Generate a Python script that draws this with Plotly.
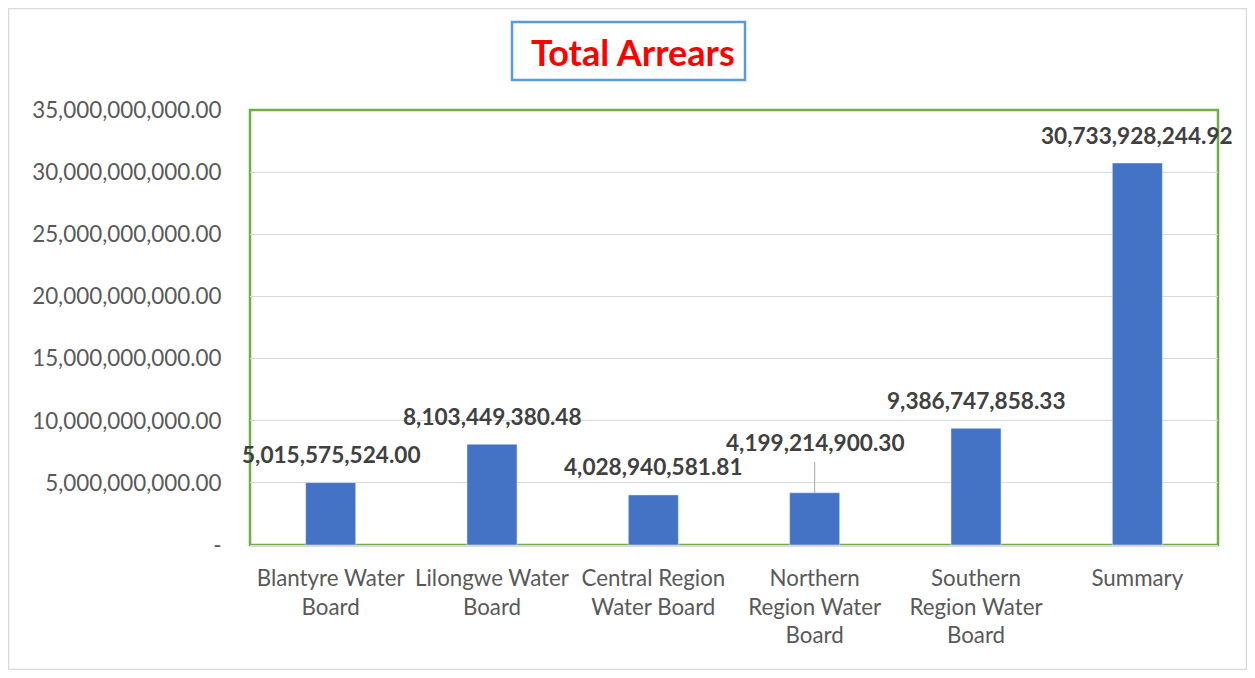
import plotly.graph_objects as go

categories = ["Blantyre Water<br>Board", "Lilongwe Water<br>Board", "Central Region<br>Water Board",
              "Northern<br>Region Water<br>Board", "Southern<br>Region Water<br>Board", "Summary"]
values = [5015575524.00, 8103449380.48, 4028940581.81, 4199214900.30, 9386747858.33, 30733928244.92]
tick_vals = [0, 5e9, 10e9, 15e9, 20e9, 25e9, 30e9, 35e9]
tick_text = ["-", "5,000,000,000.00", "10,000,000,000.00", "15,000,000,000.00", "20,000,000,000.00",
             "25,000,000,000.00", "30,000,000,000.00", "35,000,000,000.00"]

FONT = "Lato"
OFF = 8  # page body margin
W, H = 1255 - 2 * OFF, 678 - 2 * OFF
L, R, T, B = 250 - OFF, W - (1218 - OFF), 110 - OFF, H - (545 - OFF)
pw, ph = W - L - R, H - T - B

def px(x):
    return (x - OFF - L) / pw

def py(y):
    return (H - B - (y - OFF)) / ph

fig = go.Figure(go.Bar(x=categories, y=values, marker_color="#4472C4", width=0.31))

for i, (c, v) in enumerate(zip(categories, values)):
    label = f"{v:,.2f}"
    if i == 3:
        fig.add_annotation(x=c, y=v, text=f"<b>{label}</b>", showarrow=True, arrowhead=0,
                           arrowwidth=1, arrowcolor="#a6a6a6", ax=0, ay=-50, startstandoff=4,
                           font=dict(family=FONT, size=22.6, color="#404040"))
    else:
        fig.add_annotation(x=c, y=v, text=f"<b>{label}</b>", showarrow=False, yshift=28,
                           font=dict(family=FONT, size=22.6, color="#404040"))

# title box
fig.add_shape(type="rect", xref="paper", yref="paper", x0=px(512), x1=px(745), y0=py(80), y1=py(22),
              line=dict(color="#5B9BD5", width=2.5), fillcolor="white", layer="below")
fig.add_annotation(xref="paper", yref="paper", x=px(633), y=py(52), xanchor="center", yanchor="middle",
                   text="<b>Total Arrears</b>", showarrow=False,
                   font=dict(family=FONT, size=36, color="#FF0000"))
# outer border
fig.add_shape(type="rect", xref="paper", yref="paper", x0=px(8.5), x1=px(1246.5), y0=py(669.5), y1=py(8.5),
              line=dict(color="#d9d9d9", width=1.5), layer="below")
# plot area border
fig.add_shape(type="rect", xref="paper", yref="paper", x0=0, x1=1, y0=0, y1=1,
              line=dict(color="#70AD47", width=2.5), layer="below")

fig.update_layout(
    width=W, height=H, margin=dict(l=L, r=R, t=T, b=B, autoexpand=False),
    paper_bgcolor="white", plot_bgcolor="white", showlegend=False,
    xaxis=dict(range=[-0.5, len(categories) - 0.5], showline=True, linecolor="#d9d9d9", linewidth=1.5,
               ticks="outside", ticklen=12,
               tickcolor="rgba(0,0,0,0)", tickangle=0, automargin=False,
               tickfont=dict(family=FONT, size=22.3, color="#595959"), fixedrange=True),
    yaxis=dict(range=[0, 35e9], tickvals=tick_vals, ticktext=tick_text, showgrid=True, automargin=False,
               gridcolor="#d9d9d9", gridwidth=1.2, zeroline=False, ticks="outside", ticklen=23,
               tickcolor="rgba(0,0,0,0)", tickfont=dict(family=FONT, size=22.4, color="#595959")),
)
fig.write_html("out.html")
